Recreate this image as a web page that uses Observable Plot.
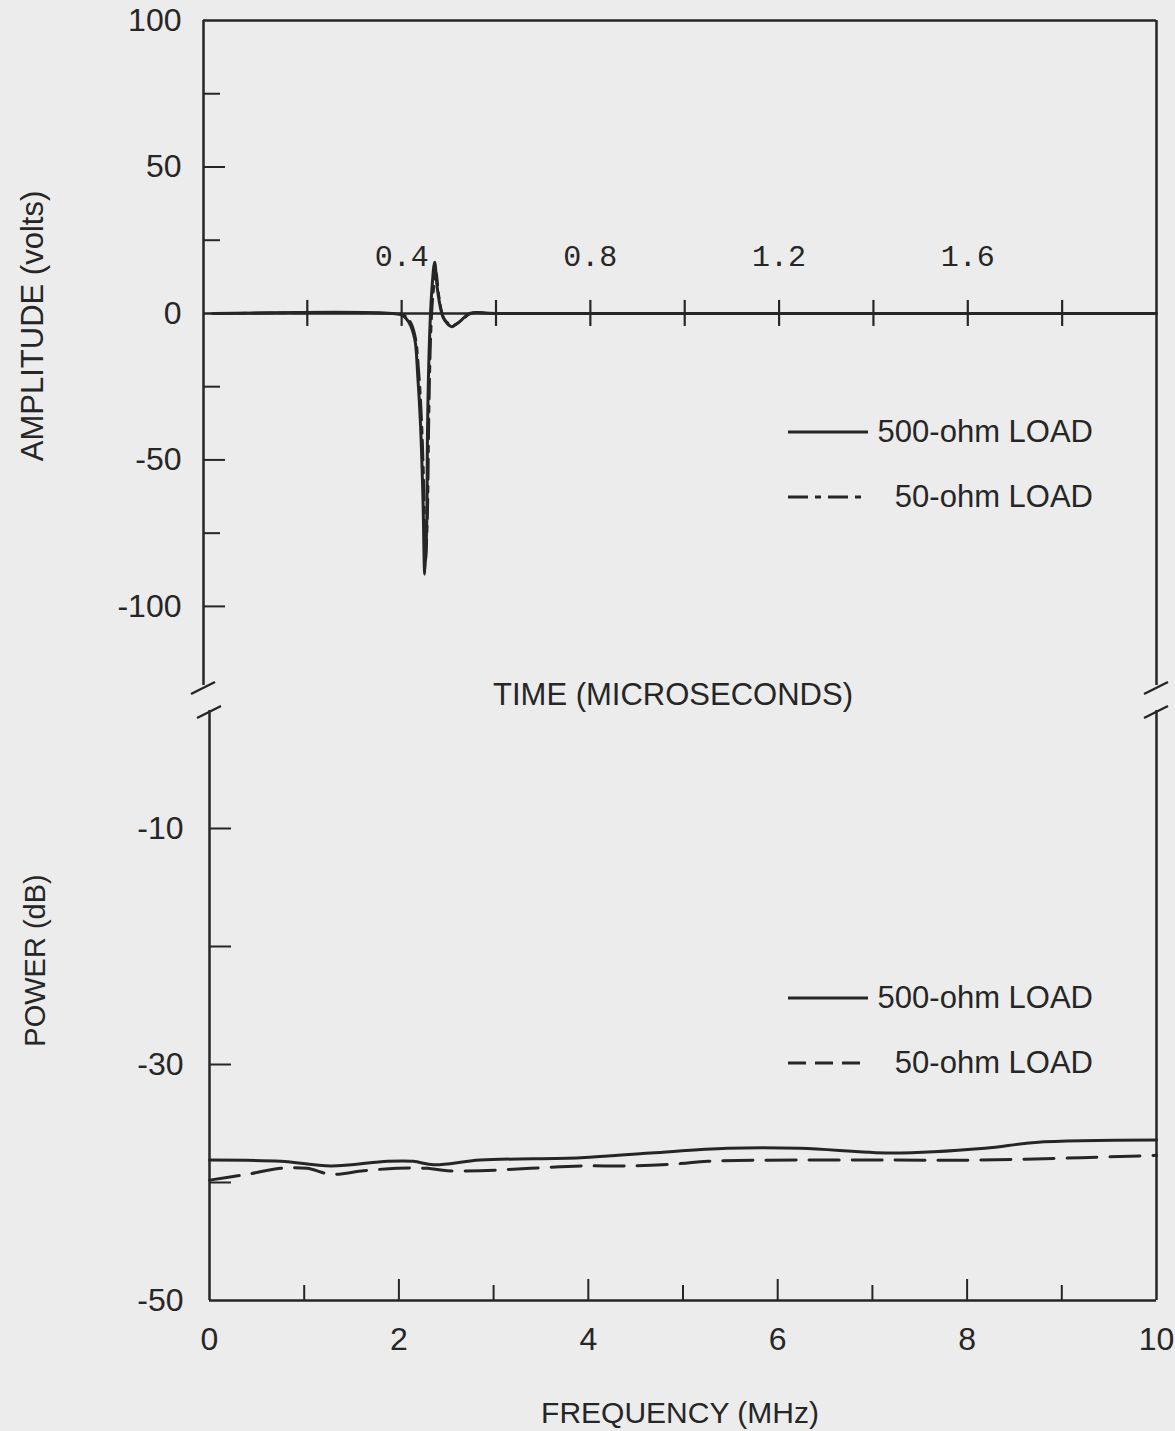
<!DOCTYPE html>
<html>
<head>
<meta charset="utf-8">
<script src="https://cdn.jsdelivr.net/npm/d3@7"></script>
<script src="https://cdn.jsdelivr.net/npm/@observablehq/plot@0.6"></script>
<style>
  html, body { margin: 0; padding: 0; background: #ececec; }
  #wrap { position: relative; width: 1175px; height: 1431px; overflow: hidden; }
  #wrap svg.plotsvg { position: absolute; left: 0; top: 0; }
  .legline { position: absolute; left: 788px; }
  .legtext { position: absolute; right: 82px; height: 40px; line-height: 40px; white-space: nowrap;
         font-family: "Liberation Sans", Arial, sans-serif; font-size: 31px; color: #262626; }
</style>
</head>
<body>
<div id="wrap"></div>
<script>
// ---------------- data ----------------
// Upper panel: time (microseconds) vs amplitude (volts)
const timeMicros500 = [0, 0.38, 0.402, 0.417, 0.428, 0.434, 0.440, 0.445, 0.449, 0.453, 0.455, 0.459, 0.464, 0.470, 0.476, 0.487, 0.497, 0.506, 0.523, 0.544, 0.6, 2.0];
const ampVolts500   = [0, 0, -0.7, -3.5, -9, -21, -38, -62, -89, -73, -38, -9, 8, 17.5, 8, -1, -3.5, -4.5, -2.8, 0, 0, 0];
const timeMicros50  = [0, 0.38, 0.404, 0.419, 0.429, 0.436, 0.442, 0.447, 0.451, 0.455, 0.458, 0.462, 0.467, 0.473, 0.479, 0.489, 0.500, 0.509, 0.526, 0.547, 0.6, 2.0];
const ampVolts50    = [0, 0, -0.5, -3, -8, -19, -35, -58, -84, -68, -34, -7, 7, 14, 6, -1.5, -3.5, -4, -2.5, 0, 0, 0];

// Lower panel: frequency (MHz) vs power (dB)
const freqMHz500 = [0, 0.75, 1.28, 1.88, 2.15, 2.37, 2.86, 3.92, 4.66, 5.47, 6.24, 7.2, 8.19, 8.72, 10];
const powerDb500 = [-38.1, -38.2, -38.6, -38.2, -38.2, -38.5, -38.1, -37.9, -37.5, -37.1, -37.1, -37.5, -37.1, -36.6, -36.4];
const freqMHz50  = [0, 0.4, 0.75, 1.03, 1.28, 1.63, 1.98, 2.3, 2.51, 2.86, 3.39, 3.92, 4.45, 4.97, 5.26, 6.24, 7.2, 8.1, 9.2, 10];
const powerDb50  = [-39.8, -39.3, -38.8, -38.8, -39.3, -39.0, -38.8, -38.8, -39.0, -39.0, -38.8, -38.6, -38.6, -38.4, -38.2, -38.1, -38.1, -38.1, -37.9, -37.7];

// ticks & labels
const timeDomain      = [-0.02, 2.0];
const ampDomain       = [-127, 100];
const timeTicks       = [0.2, 0.4, 0.6, 0.8, 1.0, 1.2, 1.4, 1.6, 1.8];
const timeTickLabels  = [0.4, 0.8, 1.2, 1.6];
const ampTickLabels   = [100, 50, 0, -50, -100];
const ampMajorTicks   = [50, -50, -100];
const ampMinorTicks   = [75, 25, -25, -75];
const freqDomain      = [0, 10];
const dbDomain        = [-50, 0];
const dbTickLabels    = [-10, -30, -50];
const dbTicks         = [-10, -20, -30, -40];
const freqTickLabels  = [0, 2, 4, 6, 8, 10];
const freqMajorTicks  = [2, 4, 6, 8];
const freqMinorTicks  = [1, 3, 5, 7, 9];
const legendLabels    = ["500-ohm LOAD", "50-ohm LOAD"];
const titleAmp   = "AMPLITUDE (volts)";
const titleTime  = "TIME (MICROSECONDS)";
const titlePower = "POWER (dB)";
const titleFreq  = "FREQUENCY (MHz)";

// ---------------- styling ----------------
const ink = "#262626";
const sans = '"Liberation Sans", Arial, sans-serif';
const monoFont = '"Liberation Mono", "DejaVu Sans Mono", monospace';
const dashDot = "20,7,6,7";
const dashed = "30,13";

const pulse500 = timeMicros500.map((t, i) => ({t, v: ampVolts500[i]}));
const pulse50  = timeMicros50.map((t, i) => ({t, v: ampVolts50[i]}));
const spec500  = freqMHz500.map((f, i) => ({f, p: powerDb500[i]}));
const spec50   = freqMHz50.map((f, i) => ({f, p: powerDb50[i]}));

const baseStyle = {background: "transparent", color: ink, overflow: "visible"};
const frameW = 2.5;

// ---------------- upper panel ----------------
const tMin = timeDomain[0], tMax = timeDomain[1];
const topPlot = Plot.plot({
  width: 1175, height: 720,
  marginLeft: 203, marginRight: 19, marginTop: 20, marginBottom: 35,
  style: baseStyle,
  x: {domain: timeDomain, axis: null, label: null},
  y: {domain: ampDomain, label: null},
  marks: [
    Plot.ruleX([tMin, tMax], {stroke: ink, strokeWidth: frameW}),
    Plot.ruleY([ampDomain[1]], {stroke: ink, strokeWidth: frameW}),
    Plot.ruleY([0], {stroke: ink, strokeWidth: 2.5}),
    Plot.ruleX(timeTicks, {x: d => d, y1: 0, y2: 0, insetTop: -13, insetBottom: -13, stroke: ink, strokeWidth: 2.2}),
    Plot.ruleY(ampMajorTicks, {y: d => d, x1: tMin, x2: tMin, insetRight: -22, stroke: ink, strokeWidth: 2}),
    Plot.ruleY(ampMinorTicks, {y: d => d, x1: tMin, x2: tMin, insetRight: -17, stroke: ink, strokeWidth: 2}),
    Plot.axisY(ampTickLabels, {tickSize: 0, tickPadding: 22, tickFormat: d => String(d), fontSize: 32, fontFamily: sans, label: null}),
    Plot.text(timeTickLabels, {x: d => d, y: 0, text: d => d.toFixed(1), dy: -57, fontSize: 30, fontFamily: monoFont, fill: ink}),
    Plot.line(pulse50, {x: "t", y: "v", stroke: ink, strokeWidth: 2.6, strokeDasharray: dashDot, curve: "catmull-rom"}),
    Plot.line(pulse500, {x: "t", y: "v", stroke: ink, strokeWidth: 3, curve: "catmull-rom"}),
    Plot.text([titleAmp], {text: d => d, frameAnchor: "left", textAnchor: "middle", lineAnchor: "middle", rotate: -90, dx: -170, dy: -27, fontSize: 31, fontFamily: sans, fill: ink}),
    Plot.text([titleTime], {text: d => d, frameAnchor: "bottom", lineAnchor: "middle", dx: -7, dy: 10, fontSize: 31, fontFamily: sans, fill: ink})
  ]
});

// ---------------- lower panel ----------------
const botPlot = Plot.plot({
  width: 1175, height: 1431,
  marginLeft: 209, marginRight: 19, marginTop: 710, marginBottom: 131,
  style: baseStyle,
  x: {domain: freqDomain, axis: null, label: null},
  y: {domain: dbDomain, axis: null, label: null},
  marks: [
    Plot.ruleX(freqDomain, {stroke: ink, strokeWidth: frameW}),
    Plot.ruleY([dbDomain[0]], {stroke: ink, strokeWidth: frameW}),
    Plot.ruleY(dbTicks, {y: d => d, x1: freqDomain[0], x2: freqDomain[0], insetRight: -22, stroke: ink, strokeWidth: 2}),
    Plot.ruleX(freqMajorTicks, {x: d => d, y1: dbDomain[0], y2: dbDomain[0], insetTop: -21, stroke: ink, strokeWidth: 2}),
    Plot.ruleX(freqMinorTicks, {x: d => d, y1: dbDomain[0], y2: dbDomain[0], insetTop: -15, stroke: ink, strokeWidth: 2}),
    Plot.axisY(dbTickLabels, {tickSize: 0, tickPadding: 26, tickFormat: d => String(d), fontSize: 32, fontFamily: sans, label: null}),
    Plot.axisX(freqTickLabels, {tickSize: 0, tickPadding: 27, tickFormat: d => String(d), fontSize: 32, fontFamily: sans, label: null}),
    Plot.line(spec50, {x: "f", y: "p", stroke: ink, strokeWidth: 3, strokeDasharray: dashed, curve: "catmull-rom"}),
    Plot.line(spec500, {x: "f", y: "p", stroke: ink, strokeWidth: 3, curve: "catmull-rom"}),
    Plot.text([titlePower], {text: d => d, frameAnchor: "left", textAnchor: "middle", lineAnchor: "middle", rotate: -90, dx: -174, dy: -45, fontSize: 29, fontFamily: sans, fill: ink}),
    Plot.text([titleFreq], {text: d => d, frameAnchor: "bottom", lineAnchor: "middle", dx: -3, dy: 113, fontSize: 30, fontFamily: sans, fill: ink})
  ]
});

const wrap = document.getElementById("wrap");
for (const p of [topPlot, botPlot]) { p.classList.add("plotsvg"); wrap.appendChild(p); }

// axis-break marks on the frame, placed from the scales
function addBreak(svgNode, x, y) {
  d3.select(svgNode).append("line")
    .attr("x1", x - 12).attr("y1", y + 6).attr("x2", x + 12).attr("y2", y - 6)
    .attr("stroke", ink).attr("stroke-width", 2.5);
}
const tx = topPlot.scale("x"), ty = topPlot.scale("y");
const bx = botPlot.scale("x"), by = botPlot.scale("y");
for (const t of timeDomain) addBreak(topPlot, tx.apply(t), ty.apply(ampDomain[0]) + 3);
for (const f of freqDomain) addBreak(botPlot, bx.apply(f), by.apply(dbDomain[1]) + 2);

// legends (inside each panel)
function addLegend(centerY1, centerY2, dash2) {
  const items = [[legendLabels[0], null, centerY1], [legendLabels[1], dash2, centerY2]];
  for (const [label, dash, cy] of items) {
    const s = d3.create("svg").attr("class", "legline").attr("width", 80).attr("height", 8)
      .style("top", (cy - 4) + "px");
    s.append("line").attr("x1", 0).attr("x2", 80).attr("y1", 4).attr("y2", 4)
      .attr("stroke", ink).attr("stroke-width", 3).attr("stroke-dasharray", dash);
    wrap.appendChild(s.node());
    const span = document.createElement("div");
    span.className = "legtext";
    span.style.top = (cy - 20) + "px";
    span.textContent = label;
    wrap.appendChild(span);
  }
}
addLegend(432, 497, "20,7,6,7");
addLegend(998, 1063, "18,9");
</script>
</body>
</html>
